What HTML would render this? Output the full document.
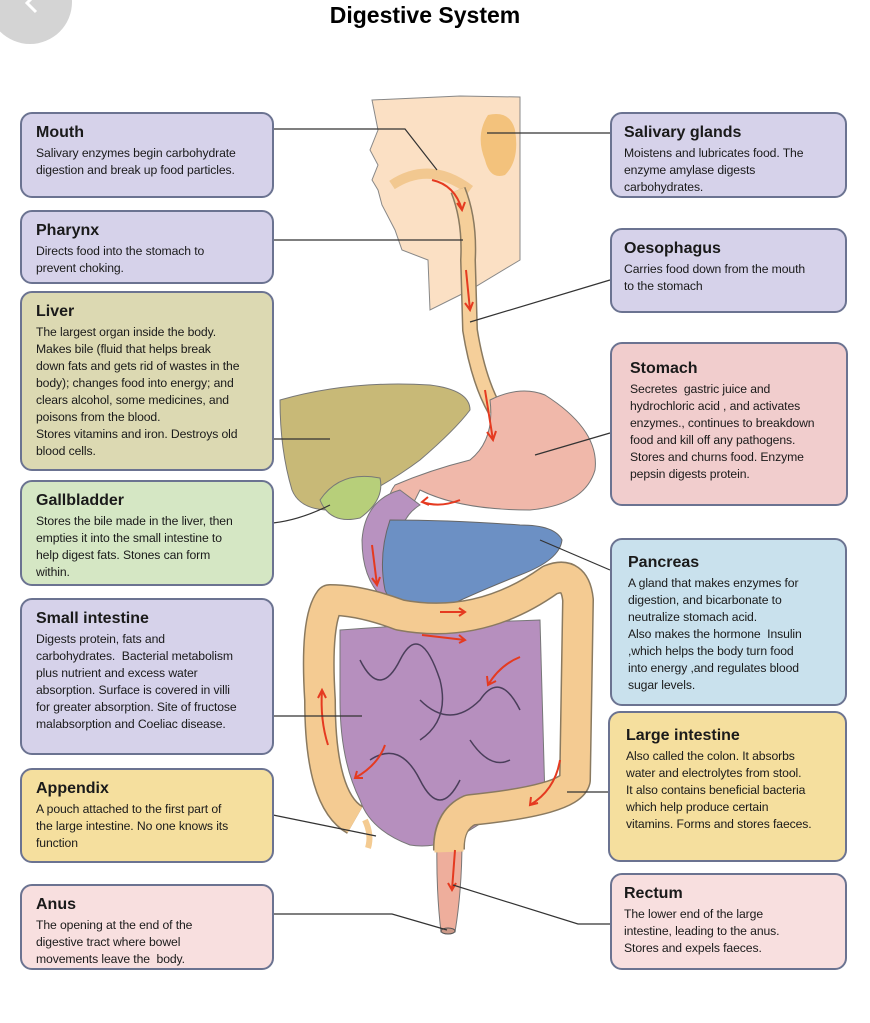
<!DOCTYPE html>
<html><head><meta charset="utf-8"><style>
body{margin:0;width:870px;height:1023px;background:#fff;position:relative;overflow:hidden;font-family:"Liberation Sans",sans-serif}
.b{position:absolute;border:2px solid #6b7391;border-radius:12px;box-sizing:border-box;padding:10px 4px 0 14px;color:#1a1a1a}
.b h3{margin:0 0 3px;font-size:16px;font-weight:bold}
.b p{margin:0;font-size:12.2px;line-height:17px;white-space:nowrap;letter-spacing:-0.1px}
.pu{background:#d6d2ea}.ol{background:#dcd9b2}.gr{background:#d5e7c4}.bl{background:#c9e1ed}.ye{background:#f5df9e}.pk{background:#f8dfdf}.st{background:#f1cdcd}
svg{position:absolute;left:0;top:0}
</style></head><body>
<svg width="870" height="1023">
<circle cx="30" cy="2" r="42" fill="#d4d4d4"/>
<path d="M36 -6 l-9 9 l9 9" stroke="#fff" stroke-width="3" fill="none"/>
<path d="M372 100 L460 96 L520 97 L520 260 L470 290 L430 310 L428 260 L402 250 L395 230 L382 205 L378 190 L372 180 L378 165 L370 150 L378 130 Z" fill="#fbe0c4" stroke="#888" stroke-width="1"/>
<path d="M488 115 Q510 110 515 130 Q520 160 505 175 Q490 180 485 160 Q475 135 488 115Z" fill="#f3c27c"/>
<path d="M392 185 Q430 160 470 190" stroke="#f2c890" stroke-width="10" fill="none"/>
<path d="M458 190 Q470 220 468 260 L470 330 Q478 380 495 410" stroke="#8a7a60" stroke-width="16" fill="none"/>
<path d="M458 190 Q470 220 468 260 L470 330 Q478 380 495 410" stroke="#f5cf9a" stroke-width="13" fill="none"/>
<path d="M280 400 Q350 380 430 385 Q470 390 470 410 Q455 430 420 460 Q380 490 330 510 Q300 510 292 490 Q280 450 280 400Z" fill="#c8b977" stroke="#777"/>
<path d="M320 500 Q340 470 380 478 Q385 500 360 518 Q330 525 320 500Z" fill="#b7cf7a" stroke="#777"/>
<path d="M490 400 Q520 385 545 395 Q600 430 595 470 Q585 505 530 510 Q460 510 420 490 L405 520 Q380 505 395 485 Q430 470 470 460 Q495 440 490 400Z" fill="#f0b8aa" stroke="#777"/>
<path d="M400 490 Q365 500 362 540 Q362 580 385 600 L410 605 L400 560 Q395 520 420 505Z" fill="#b892c0" stroke="#777"/>
<path d="M390 520 Q450 520 520 525 Q555 525 562 540 Q560 560 520 575 Q470 595 440 610 Q395 615 385 590 Q378 555 390 520Z" fill="#6c90c4" stroke="#666"/>
<path d="M340 630 Q400 625 540 620 L545 800 Q500 810 470 830 Q440 850 410 845 Q370 830 360 800 Q340 760 340 700Z" fill="#b68fbe" stroke="#777"/>
<path d="M360 660 q20 40 40 0 q20 -40 40 20 q10 40 -20 60 M420 700 q30 30 60 0 q20 -30 40 10 M370 760 q30 -20 50 20 q20 40 40 0 M470 740 q20 30 40 20" stroke="#4a3e5a" stroke-width="1.5" fill="none"/>
<path d="M437 840 Q436 890 441 932 L455 932 Q462 890 462 840Z" fill="#eeae9c" stroke="#777"/>
<ellipse cx="448" cy="931" rx="7" ry="3" fill="#c98" stroke="#555"/>
<path d="M355 820 Q320 800 320 700 Q315 620 330 600 Q360 600 400 615 Q480 630 550 580 Q575 570 578 600 L575 780 Q570 800 470 810 Q448 820 449 850" stroke="#8a7a60" stroke-width="32" fill="none" stroke-linejoin="round"/>
<path d="M355 820 Q320 800 320 700 Q315 620 330 600 Q360 600 400 615 Q480 630 550 580 Q575 570 578 600 L575 780 Q570 800 470 810 Q448 820 449 852" stroke="#f4cb92" stroke-width="29" fill="none" stroke-linejoin="round"/>
<path d="M365 820 Q372 835 368 848" stroke="#f4cb92" stroke-width="6" fill="none"/>
<g stroke="#e53a20" stroke-width="2" fill="none">
<path d="M432 180 Q455 185 462 210 M457 203 l5 7 l3 -8"/>
<path d="M466 270 L470 310 M465 303 l5 7 l3 -8"/>
<path d="M485 390 L493 440 M487 432 l6 8 l3 -9"/>
<path d="M460 500 Q440 508 422 502 M428 497 l-6 5 l7 3"/>
<path d="M372 545 L377 585 M372 578 l5 7 l3 -8"/>
<path d="M440 612 L465 612 M459 608 l6 4 l-6 4"/>
<path d="M422 635 L465 640 M459 635 l6 5 l-6 3"/>
<path d="M520 657 Q500 665 488 685 M487 676 l1 9 l8 -4"/>
<path d="M328 745 Q320 720 322 690 M318 698 l4 -8 l4 8"/>
<path d="M385 745 Q378 765 355 778 M357 771 l-2 7 l8 0"/>
<path d="M560 760 Q555 790 530 805 M531 797 l-1 8 l8 -2"/>
<path d="M455 850 L452 890 M448 883 l4 7 l4 -7"/>
</g>
<g stroke="#333" stroke-width="1.2" fill="none">
<path d="M273 129 L405 129 L437 170"/>
<path d="M273 240 L463 240"/>
<path d="M270 439 L330 439"/>
<path d="M273 523 Q300 520 330 505"/>
<path d="M273 716 L362 716"/>
<path d="M273 815 L376 836"/>
<path d="M273 914 L392 914 L447 930"/>
<path d="M610 133 L487 133"/>
<path d="M610 280 L470 322"/>
<path d="M610 433 L535 455"/>
<path d="M610 570 L540 540"/>
<path d="M608 792 L567 792"/>
<path d="M610 924 L578 924 L453 885"/>
</g>
</svg>
<div style="position:absolute;left:0;width:850px;top:2px;text-align:center;font-size:23px;font-weight:bold">Digestive System</div>
<div class="b pu" style="left:20px;top:112px;width:254px;height:86px"><h3>Mouth</h3><p>Salivary enzymes begin carbohydrate<br>digestion and break up food particles.</p></div>
<div class="b pu" style="left:20px;top:210px;width:254px;height:74px"><h3>Pharynx</h3><p>Directs food into the stomach to<br>prevent choking.</p></div>
<div class="b ol" style="left:20px;top:291px;width:254px;height:180px"><h3>Liver</h3><p>The largest organ inside the body.<br>Makes bile (fluid that helps break<br>down fats and gets rid of wastes in the<br>body); changes food into energy; and<br>clears alcohol, some medicines, and<br>poisons from the blood.<br>Stores vitamins and iron. Destroys old<br>blood cells.</p></div>
<div class="b gr" style="left:20px;top:480px;width:254px;height:106px"><h3>Gallbladder</h3><p>Stores the bile made in the liver, then<br>empties it into the small intestine to<br>help digest fats. Stones can form<br>within.</p></div>
<div class="b pu" style="left:20px;top:598px;width:254px;height:157px"><h3>Small intestine</h3><p>Digests protein, fats and<br>carbohydrates.&nbsp; Bacterial metabolism<br>plus nutrient and excess water<br>absorption. Surface is covered in villi<br>for greater absorption. Site of fructose<br>malabsorption and Coeliac disease.</p></div>
<div class="b ye" style="left:20px;top:768px;width:254px;height:95px"><h3>Appendix</h3><p>A pouch attached to the first part of<br>the large intestine. No one knows its<br>function</p></div>
<div class="b pk" style="left:20px;top:884px;width:254px;height:86px"><h3>Anus</h3><p>The opening at the end of the<br>digestive tract where bowel<br>movements leave the&nbsp; body.</p></div>
<div class="b pu" style="left:610px;top:112px;width:237px;height:86px;padding-left:12px"><h3>Salivary glands</h3><p>Moistens and lubricates food. The<br>enzyme amylase digests<br>carbohydrates.</p></div>
<div class="b pu" style="left:610px;top:228px;width:237px;height:85px;padding-left:12px"><h3>Oesophagus</h3><p>Carries food down from the mouth<br>to the stomach</p></div>
<div class="b st" style="left:610px;top:342px;width:238px;height:164px;padding:16px 4px 0 18px"><h3>Stomach</h3><p>Secretes&nbsp; gastric juice and<br>hydrochloric acid , and activates<br>enzymes., continues to breakdown<br>food and kill off any pathogens.<br>Stores and churns food. Enzyme<br>pepsin digests protein.</p></div>
<div class="b bl" style="left:610px;top:538px;width:237px;height:168px;padding:14px 4px 0 16px"><h3>Pancreas</h3><p>A gland that makes enzymes for<br>digestion, and bicarbonate to<br>neutralize stomach acid.<br>Also makes the hormone&nbsp; Insulin<br>,which helps the body turn food<br>into energy ,and regulates blood<br>sugar levels.</p></div>
<div class="b ye" style="left:608px;top:711px;width:239px;height:151px;padding:14px 4px 0 16px"><h3>Large intestine</h3><p>Also called the colon. It absorbs<br>water and electrolytes from stool.<br>It also contains beneficial bacteria<br>which help produce certain<br>vitamins. Forms and stores faeces.</p></div>
<div class="b pk" style="left:610px;top:873px;width:237px;height:97px;padding-left:12px"><h3>Rectum</h3><p>The lower end of the large<br>intestine, leading to the anus.<br>Stores and expels faeces.</p></div>
</body></html>
